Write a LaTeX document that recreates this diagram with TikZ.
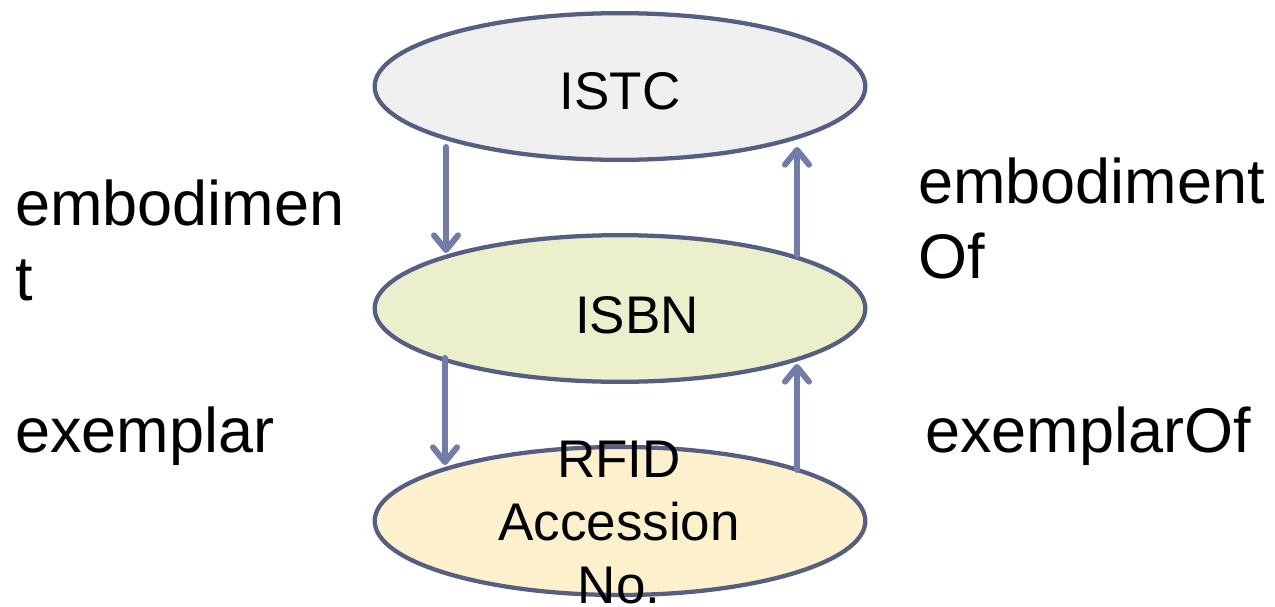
\documentclass[tikz,border=0pt]{standalone}
\usepackage{fontspec}
\setmainfont{Liberation Sans}
\usetikzlibrary{shapes.geometric,arrows.meta}
\definecolor{edgec}{RGB}{86,94,130}
\definecolor{arrc}{RGB}{114,124,166}
\definecolor{fillA}{RGB}{240,240,240}
\definecolor{fillB}{RGB}{236,239,204}
\definecolor{fillC}{RGB}{253,240,204}
\tikzset{
  oval/.style={draw=edgec, line width=3.2pt, ellipse, inner sep=0pt, minimum width=368pt, minimum height=110pt},
  ovaltext/.style={anchor=base, inner sep=0pt, font=\fontsize{39.75pt}{47pt}\selectfont},
  lbl/.style={anchor=base west, inner sep=0pt, font=\fontsize{47.25pt}{56pt}\selectfont},
  arr/.style={draw=arrc, line width=4.5pt, line cap=round, -{Straight Barb[length=11pt, width=18pt, round]}}
}
\begin{document}
\begin{tikzpicture}[x=0.75pt, y=-0.75pt]
\useasboundingbox (0,0) rectangle (1275,607);
\node[oval, fill=fillA] (istc) at (620,86.5) {};
\node[oval, fill=fillB] (isbn) at (620,308.5) {};
\node[oval, fill=fillC, minimum height=111pt] (rfid) at (620,521) {};
\node[ovaltext] (istct) at (620,109) {ISTC};
\node[ovaltext] (isbnt) at (637,333) {ISBN};
\node[ovaltext] (rfid1) at (619,477) {RFID};
\node[ovaltext] (rfid2) at (619,540) {Accession};
\node[ovaltext] (rfid3) at (619,603) {No.};
\coordinate (a1s) at (446,147);
\coordinate (a1e) at (446,253);
\coordinate (a2s) at (797,255);
\coordinate (a2e) at (797,147);
\coordinate (a3s) at (445,358);
\coordinate (a3e) at (445,465);
\coordinate (a4s) at (797,470);
\coordinate (a4e) at (797,364);
\draw[arr] (a1s) -- (a1e);
\draw[arr] (a2s) -- (a2e);
\draw[arr] (a3s) -- (a3e);
\draw[arr] (a4s) -- (a4e);
\node[lbl] (l1) at (15,225) {embodimen};
\node[lbl] (l2) at (15,300) {t};
\node[lbl] (l3) at (918,203) {embodiment};
\node[lbl] (l4) at (918,278) {Of};
\node[lbl] (l5) at (15,452) {exemplar};
\node[lbl] (l6) at (925,452) {exemplarOf};
\end{tikzpicture}
\end{document}
